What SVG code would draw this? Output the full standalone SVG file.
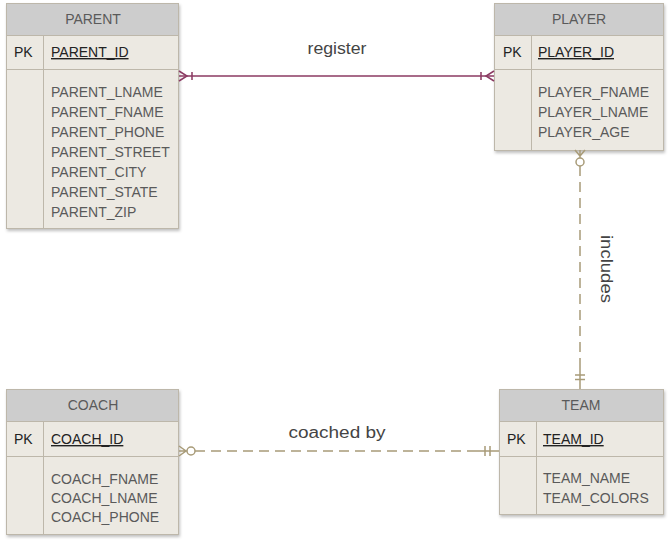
<svg xmlns="http://www.w3.org/2000/svg" width="669" height="545" viewBox="0 0 669 545">
<style>
  .box { fill: #ECE9E2; stroke: #BDB7AA; stroke-width: 1; }
  .hdr { fill: #CDCDCD; stroke: #BDB7AA; stroke-width: 1; }
  .sep { stroke: #BDB7AA; stroke-width: 1; fill: none; }
  .t { font-family: "Liberation Sans", Arial, sans-serif; font-size: 14px; fill: #5A5A5A; }
  .h { text-anchor: middle; }
  .pk { fill: #222; }
  .id { fill: #222; text-decoration: underline; }
  .lbl { font-family: "Liberation Sans", Arial, sans-serif; font-size: 16px; fill: #444; text-anchor: middle; }
  .reg { stroke: #8B3A62; stroke-width: 1.5; fill: none; }
  .tan { stroke: #A89B78; stroke-width: 1.5; fill: none; }
  .dash { stroke-dasharray: 10 6; }
</style>
<defs>
  <filter id="sh" x="-10%" y="-10%" width="120%" height="120%">
    <feDropShadow dx="1" dy="2" stdDeviation="1.5" flood-color="#000" flood-opacity="0.25"/>
  </filter>
</defs>
<rect width="669" height="545" fill="#fff"/>

<g id="parent">
  <rect class="box" x="6.5" y="3.5" width="172" height="225" filter="url(#sh)"/>
  <rect class="hdr" x="6.5" y="3.5" width="172" height="32"/>
  <line class="sep" x1="6.5" y1="69.5" x2="178.5" y2="69.5"/>
  <line class="sep" x1="43.5" y1="35.5" x2="43.5" y2="228.5"/>
  <text class="t h" x="93" y="24">PARENT</text>
  <text class="t pk" x="14" y="57">PK</text>
  <text class="t id" x="51" y="57">PARENT_ID</text>
  <text class="t" x="51" y="97">PARENT_LNAME</text>
  <text class="t" x="51" y="117">PARENT_FNAME</text>
  <text class="t" x="51" y="137">PARENT_PHONE</text>
  <text class="t" x="51" y="157">PARENT_STREET</text>
  <text class="t" x="51" y="177">PARENT_CITY</text>
  <text class="t" x="51" y="197">PARENT_STATE</text>
  <text class="t" x="51" y="217">PARENT_ZIP</text>
</g>

<g id="player">
  <rect class="box" x="494.5" y="3.5" width="169" height="147" filter="url(#sh)"/>
  <rect class="hdr" x="494.5" y="3.5" width="169" height="32"/>
  <line class="sep" x1="494.5" y1="69.5" x2="663.5" y2="69.5"/>
  <line class="sep" x1="531.5" y1="35.5" x2="531.5" y2="150.5"/>
  <text class="t h" x="579" y="24">PLAYER</text>
  <text class="t pk" x="503" y="57">PK</text>
  <text class="t id" x="538" y="57">PLAYER_ID</text>
  <text class="t" x="538" y="97">PLAYER_FNAME</text>
  <text class="t" x="538" y="117">PLAYER_LNAME</text>
  <text class="t" x="538" y="137">PLAYER_AGE</text>
</g>

<g id="coach">
  <rect class="box" x="6.5" y="389.5" width="172" height="145" filter="url(#sh)"/>
  <rect class="hdr" x="6.5" y="389.5" width="172" height="32"/>
  <line class="sep" x1="6.5" y1="456.5" x2="178.5" y2="456.5"/>
  <line class="sep" x1="43.5" y1="421.5" x2="43.5" y2="534.5"/>
  <text class="t h" x="93" y="410">COACH</text>
  <text class="t pk" x="14" y="444">PK</text>
  <text class="t id" x="51" y="444">COACH_ID</text>
  <text class="t" x="51" y="484">COACH_FNAME</text>
  <text class="t" x="51" y="503">COACH_LNAME</text>
  <text class="t" x="51" y="522">COACH_PHONE</text>
</g>

<g id="team">
  <rect class="box" x="499.5" y="389.5" width="164" height="125" filter="url(#sh)"/>
  <rect class="hdr" x="499.5" y="389.5" width="164" height="32"/>
  <line class="sep" x1="499.5" y1="456.5" x2="663.5" y2="456.5"/>
  <line class="sep" x1="536.5" y1="421.5" x2="536.5" y2="514.5"/>
  <text class="t h" x="581" y="410">TEAM</text>
  <text class="t pk" x="507" y="444">PK</text>
  <text class="t id" x="543" y="444">TEAM_ID</text>
  <text class="t" x="543" y="483">TEAM_NAME</text>
  <text class="t" x="543" y="503">TEAM_COLORS</text>
</g>

<g id="connectors">
  <!-- register -->
  <path class="reg" d="M179,76 H494"/>
  <path class="reg" d="M179,71 L187,76 L179,81 M192,72 V80"/>
  <path class="reg" d="M481,72 V80 M494,71 L486,76 L494,81"/>
  <text class="lbl" x="337" y="54" textLength="59" lengthAdjust="spacingAndGlyphs">register</text>

  <!-- includes -->
  <path class="tan" d="M575,150 L580,156 L585,150 M580,150 V158"/>
  <circle class="tan" cx="580" cy="162" r="4" fill="#fff"/>
  <path class="tan dash" d="M580,166 V370"/>
  <path class="tan" d="M580,368 V389 M575,375 H585 M575,379.5 H585"/>
  <text class="lbl" transform="translate(601,269) rotate(90)" textLength="68" lengthAdjust="spacingAndGlyphs">includes</text>

  <!-- coached by -->
  <path class="tan" d="M179,446 L186,451 L179,456 M179,451 H187"/>
  <circle class="tan" cx="191" cy="451" r="4" fill="#fff"/>
  <path class="tan dash" d="M195,451 H478"/>
  <path class="tan" d="M477,451 H499 M485,446 V456 M490,446 V456"/>
  <text class="lbl" x="337" y="438" textLength="97" lengthAdjust="spacingAndGlyphs">coached by</text>
</g>
</svg>
